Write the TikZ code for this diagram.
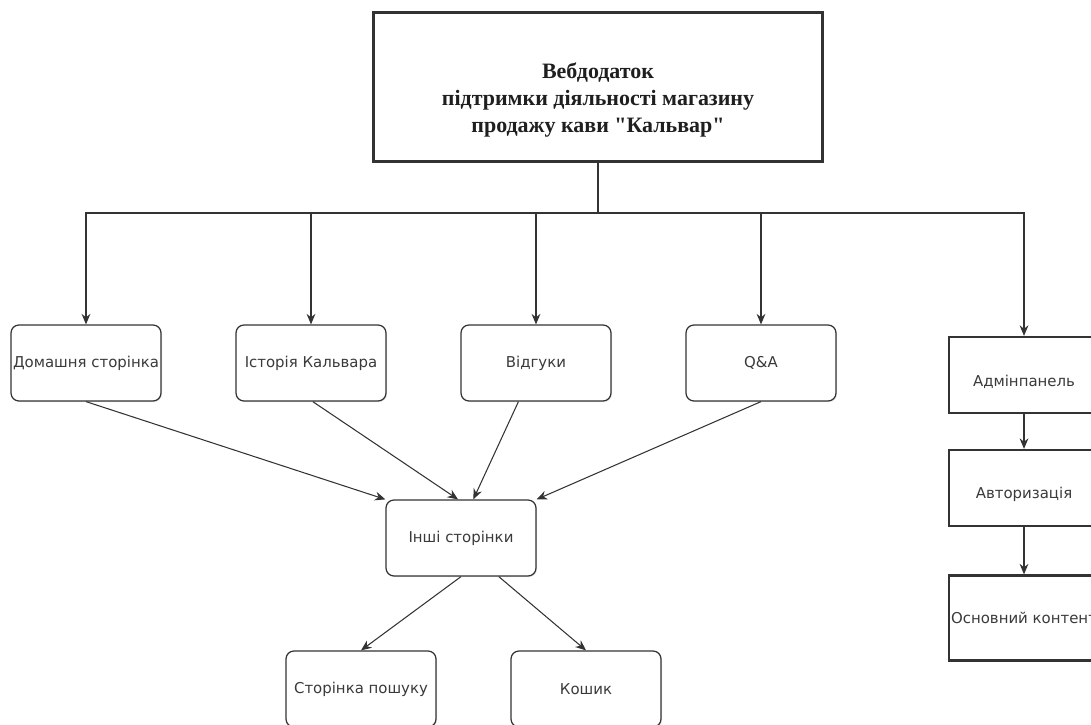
\documentclass[tikz,border=0pt]{standalone}
\usepackage{fontspec}
\setmainfont{Liberation Serif}
\newfontfamily\pagefont{DejaVu Sans}
\usetikzlibrary{arrows.meta, positioning, shadows}
\definecolor{linecol}{HTML}{333333}
\definecolor{textcol}{HTML}{3A3A3A}
\tikzstyle{arrow}   = [draw=linecol, line width=0.6pt, -{Stealth[length=6pt,width=5pt]}]
\tikzstyle{edge}    = [draw=linecol, line width=0.6pt]
\tikzstyle{page}    = [draw=linecol, line width=0.7pt, rounded corners=4.5pt, fill=white, minimum width=3cm, minimum height=1.52cm, inner sep=0pt, font=\pagefont\fontsize{8.5}{10}\selectfont, text=textcol, drop shadow={opacity=0.2, shadow xshift=0.6pt, shadow yshift=-0.6pt}]
\tikzstyle{adminbox} = [draw=linecol, line width=1.3pt, fill=white, minimum width=3cm, minimum height=1.52cm, inner sep=0pt, font=\pagefont\fontsize{8.5}{10}\selectfont, text=textcol, drop shadow={opacity=0.25, shadow xshift=0.8pt, shadow yshift=-0.8pt}]
\tikzstyle{mainbox} = [draw=linecol, line width=1.7pt, fill=white, minimum width=9cm, minimum height=3cm, align=center, font=\bfseries\fontsize{12.5}{15.3}\selectfont, text=black!88, drop shadow={opacity=0.25, shadow xshift=0.8pt, shadow yshift=-0.8pt}]

\begin{document}
\begin{tikzpicture}[x=0.02cm, y=-0.02cm]
\clip (0,0) rectangle (1091,724);

% головний блок
\node[mainbox] (main) at (598,87) {\rule{0pt}{24pt}Вебдодаток\\підтримки діяльності магазину\\продажу кави \textquotedbl Кальвар\textquotedbl};
\coordinate (split) at (598,213);

% сторінки сайту
\node[page] (home) at (86,363) {Домашня сторінка};
\node[page] (hist) at (311,363) {Історія Кальвара};
\node[page] (vidg) at (536,363) {Відгуки};
\node[page] (qa)   at (761,363) {Q\&A};

\node[page] (other)  at (461,538) {Інші сторінки};
\node[page] (search) at (361,689) {Сторінка пошуку};
\node[page] (cart)   at (586,689) {Кошик};

% адмінпанель
\node[adminbox] (admin)   at (1024,375) {\rule{0pt}{14pt}Адмінпанель};
\node[adminbox] (auth)    at (1024,488) {\rule{0pt}{14pt}Авторизація};
\node[adminbox, minimum height=1.7cm] (content) at (1024,618) {Основний контент};

% розгалуження
\draw[edge] (main) -- (split);
\draw[arrow] (split) -| (home);
\draw[arrow] (split) -| (hist);
\draw[arrow] (split) -| (vidg);
\draw[arrow] (split) -| (qa);
\draw[arrow] (split) -| (admin);

% до інших сторінок
\draw[arrow] (home.south) -- (other.north west);
\draw[arrow] ([xshift=1pt]hist.south) -- ([xshift=-1.7pt]other.north);
\draw[arrow] ([xshift=-10pt]vidg.south) -- ([xshift=7pt]other.north);
\draw[arrow] (qa.south) -- (other.north east);

\draw[arrow] (other.south) -- (search.north);
\draw[arrow] ([xshift=21.5pt]other.south) -- (cart.north);

\draw[arrow] (admin) -- (auth);
\draw[arrow] (auth) -- (content);

\end{tikzpicture}
\end{document}
